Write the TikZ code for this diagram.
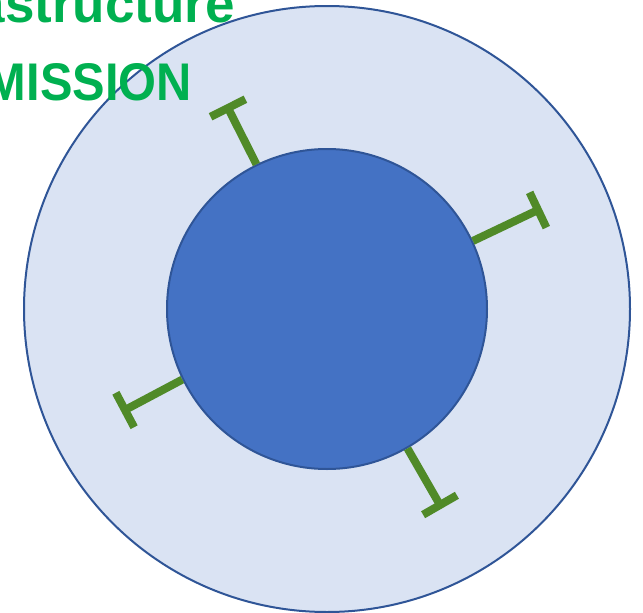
\documentclass[tikz,border=0pt]{standalone}
\usepackage{fontspec}
\setmainfont{Liberation Sans}
\usetikzlibrary{calc}
\definecolor{outerfill}{HTML}{DAE3F3}
\definecolor{ringline}{HTML}{2F5597}
\definecolor{innerfill}{HTML}{4472C4}
\definecolor{tgreen}{RGB}{80,138,40}
\definecolor{titlegreen}{HTML}{00B050}
\begin{document}
\begin{tikzpicture}[x=1pt,y=-1pt,
  ring/.style={draw=ringline,line width=2pt},
  tbar/.style={draw=tgreen,line width=8pt},
  title/.style={text=titlegreen,font=\bfseries\fontsize{53}{60}\selectfont,inner sep=0pt}]
\useasboundingbox (0,0) rectangle (643,613);
\node[ring,fill=outerfill,circle,minimum size=606pt,inner sep=0pt] (outer) at (327,309) {};
\node[ring,fill=innerfill,circle,minimum size=320pt,inner sep=0pt] (inner) at (327,309) {};
% T markers
\coordinate (t1) at (228,108);
\coordinate (r1) at (538,210);
\coordinate (l1) at (125,410);
\coordinate (b1) at (440,505);
\draw[tbar] (inner.116) -- (t1);
\draw[tbar] ($(t1)!19.5pt!90:(inner.116)$) -- ($(t1)!19.5pt!-90:(inner.116)$);
\draw[tbar] (inner.25) -- (r1);
\draw[tbar] ($(r1)!19.5pt!90:(inner.25)$) -- ($(r1)!19.5pt!-90:(inner.25)$);
\draw[tbar] (inner.206) -- (l1);
\draw[tbar] ($(l1)!19.5pt!90:(inner.206)$) -- ($(l1)!19.5pt!-90:(inner.206)$);
\draw[tbar] (inner.300) -- (b1);
\draw[tbar] ($(b1)!19.5pt!90:(inner.300)$) -- ($(b1)!19.5pt!-90:(inner.300)$);
\node[title,anchor=base east] (line1) at (235,22) {Infrastructure};
\node[title,anchor=base east,xscale=0.92,transform shape] (line2) at (192,100) {MISSION};
\end{tikzpicture}
\end{document}
